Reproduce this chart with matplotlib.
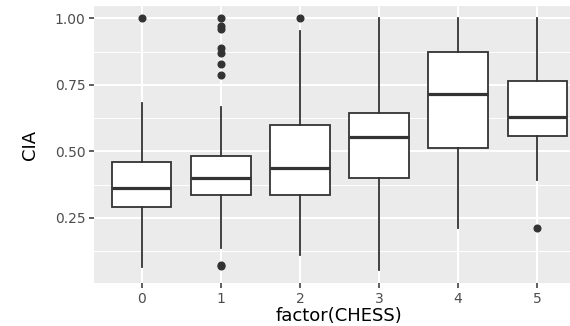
import matplotlib
matplotlib.use('Agg')
from matplotlib import pyplot as plt
from matplotlib.ticker import MultipleLocator

# CIA by CHESS level
chess_levels = ['0', '1', '2', '3', '4', '5']
q1 = [0.292, 0.337, 0.337, 0.398, 0.514, 0.558]
medians = [0.363, 0.400, 0.436, 0.555, 0.714, 0.630]
q3 = [0.459, 0.482, 0.599, 0.643, 0.874, 0.764]
whisker_low = [0.066, 0.138, 0.110, 0.054, 0.210, 0.392]
whisker_high = [0.680, 0.668, 0.953, 1.000, 1.000, 1.000]
outliers = [
    [1.00],
    [1.00, 0.971, 0.959, 0.889, 0.871, 0.827, 0.786, 0.070, 0.072],
    [1.00],
    [],
    [],
    [0.210],
]

stats = []
for i, lvl in enumerate(chess_levels):
    stats.append({'label': lvl, 'q1': q1[i], 'med': medians[i], 'q3': q3[i],
                  'whislo': whisker_low[i], 'whishi': whisker_high[i],
                  'fliers': outliers[i]})

fig = plt.figure(figsize=(5.7, 3.26), dpi=100)
# panel runs past the right edge, as in the reference crop
ax = fig.add_axes([0.1654, 0.1319, 0.8604, 0.8497])
ax.set_facecolor('#EBEBEB')

line_col = '#333333'
ax.bxp(stats, positions=range(len(chess_levels)), widths=0.75, patch_artist=True,
       boxprops=dict(facecolor='white', edgecolor=line_col, linewidth=1.3),
       medianprops=dict(color=line_col, linewidth=2.3),
       whiskerprops=dict(color=line_col, linewidth=1.3),
       capprops=dict(linewidth=0),
       flierprops=dict(marker='o', markerfacecolor=line_col, markeredgecolor=line_col,
                       markersize=4.8),
       zorder=3)

ax.set_xlim(-0.6, 5.6)
ax.set_ylim(0.005, 1.046)
ax.yaxis.set_major_locator(MultipleLocator(0.25))
ax.yaxis.set_minor_locator(MultipleLocator(0.125))
ax.set_yticks([0.25, 0.5, 0.75, 1.0])
ax.set_yticklabels(['0.25', '0.50', '0.75', '1.00'])
ax.set_xticks(range(len(chess_levels)))
ax.set_xticklabels(chess_levels)

ax.grid(which='major', color='white', linewidth=1.5)
ax.grid(which='minor', axis='y', color='white', linewidth=0.7)
ax.set_axisbelow(True)
for s in ax.spines.values():
    s.set_visible(False)

ax.tick_params(which='major', length=3.5, width=1.1, color=line_col,
               labelcolor='#4D4D4D', labelsize=10, pad=3)
ax.tick_params(which='minor', length=0)

ax.set_xlabel('factor(CHESS)', fontsize=13, labelpad=1)
ax.set_ylabel('CIA', fontsize=13, labelpad=11)

fig.savefig('out.png', dpi=100)
